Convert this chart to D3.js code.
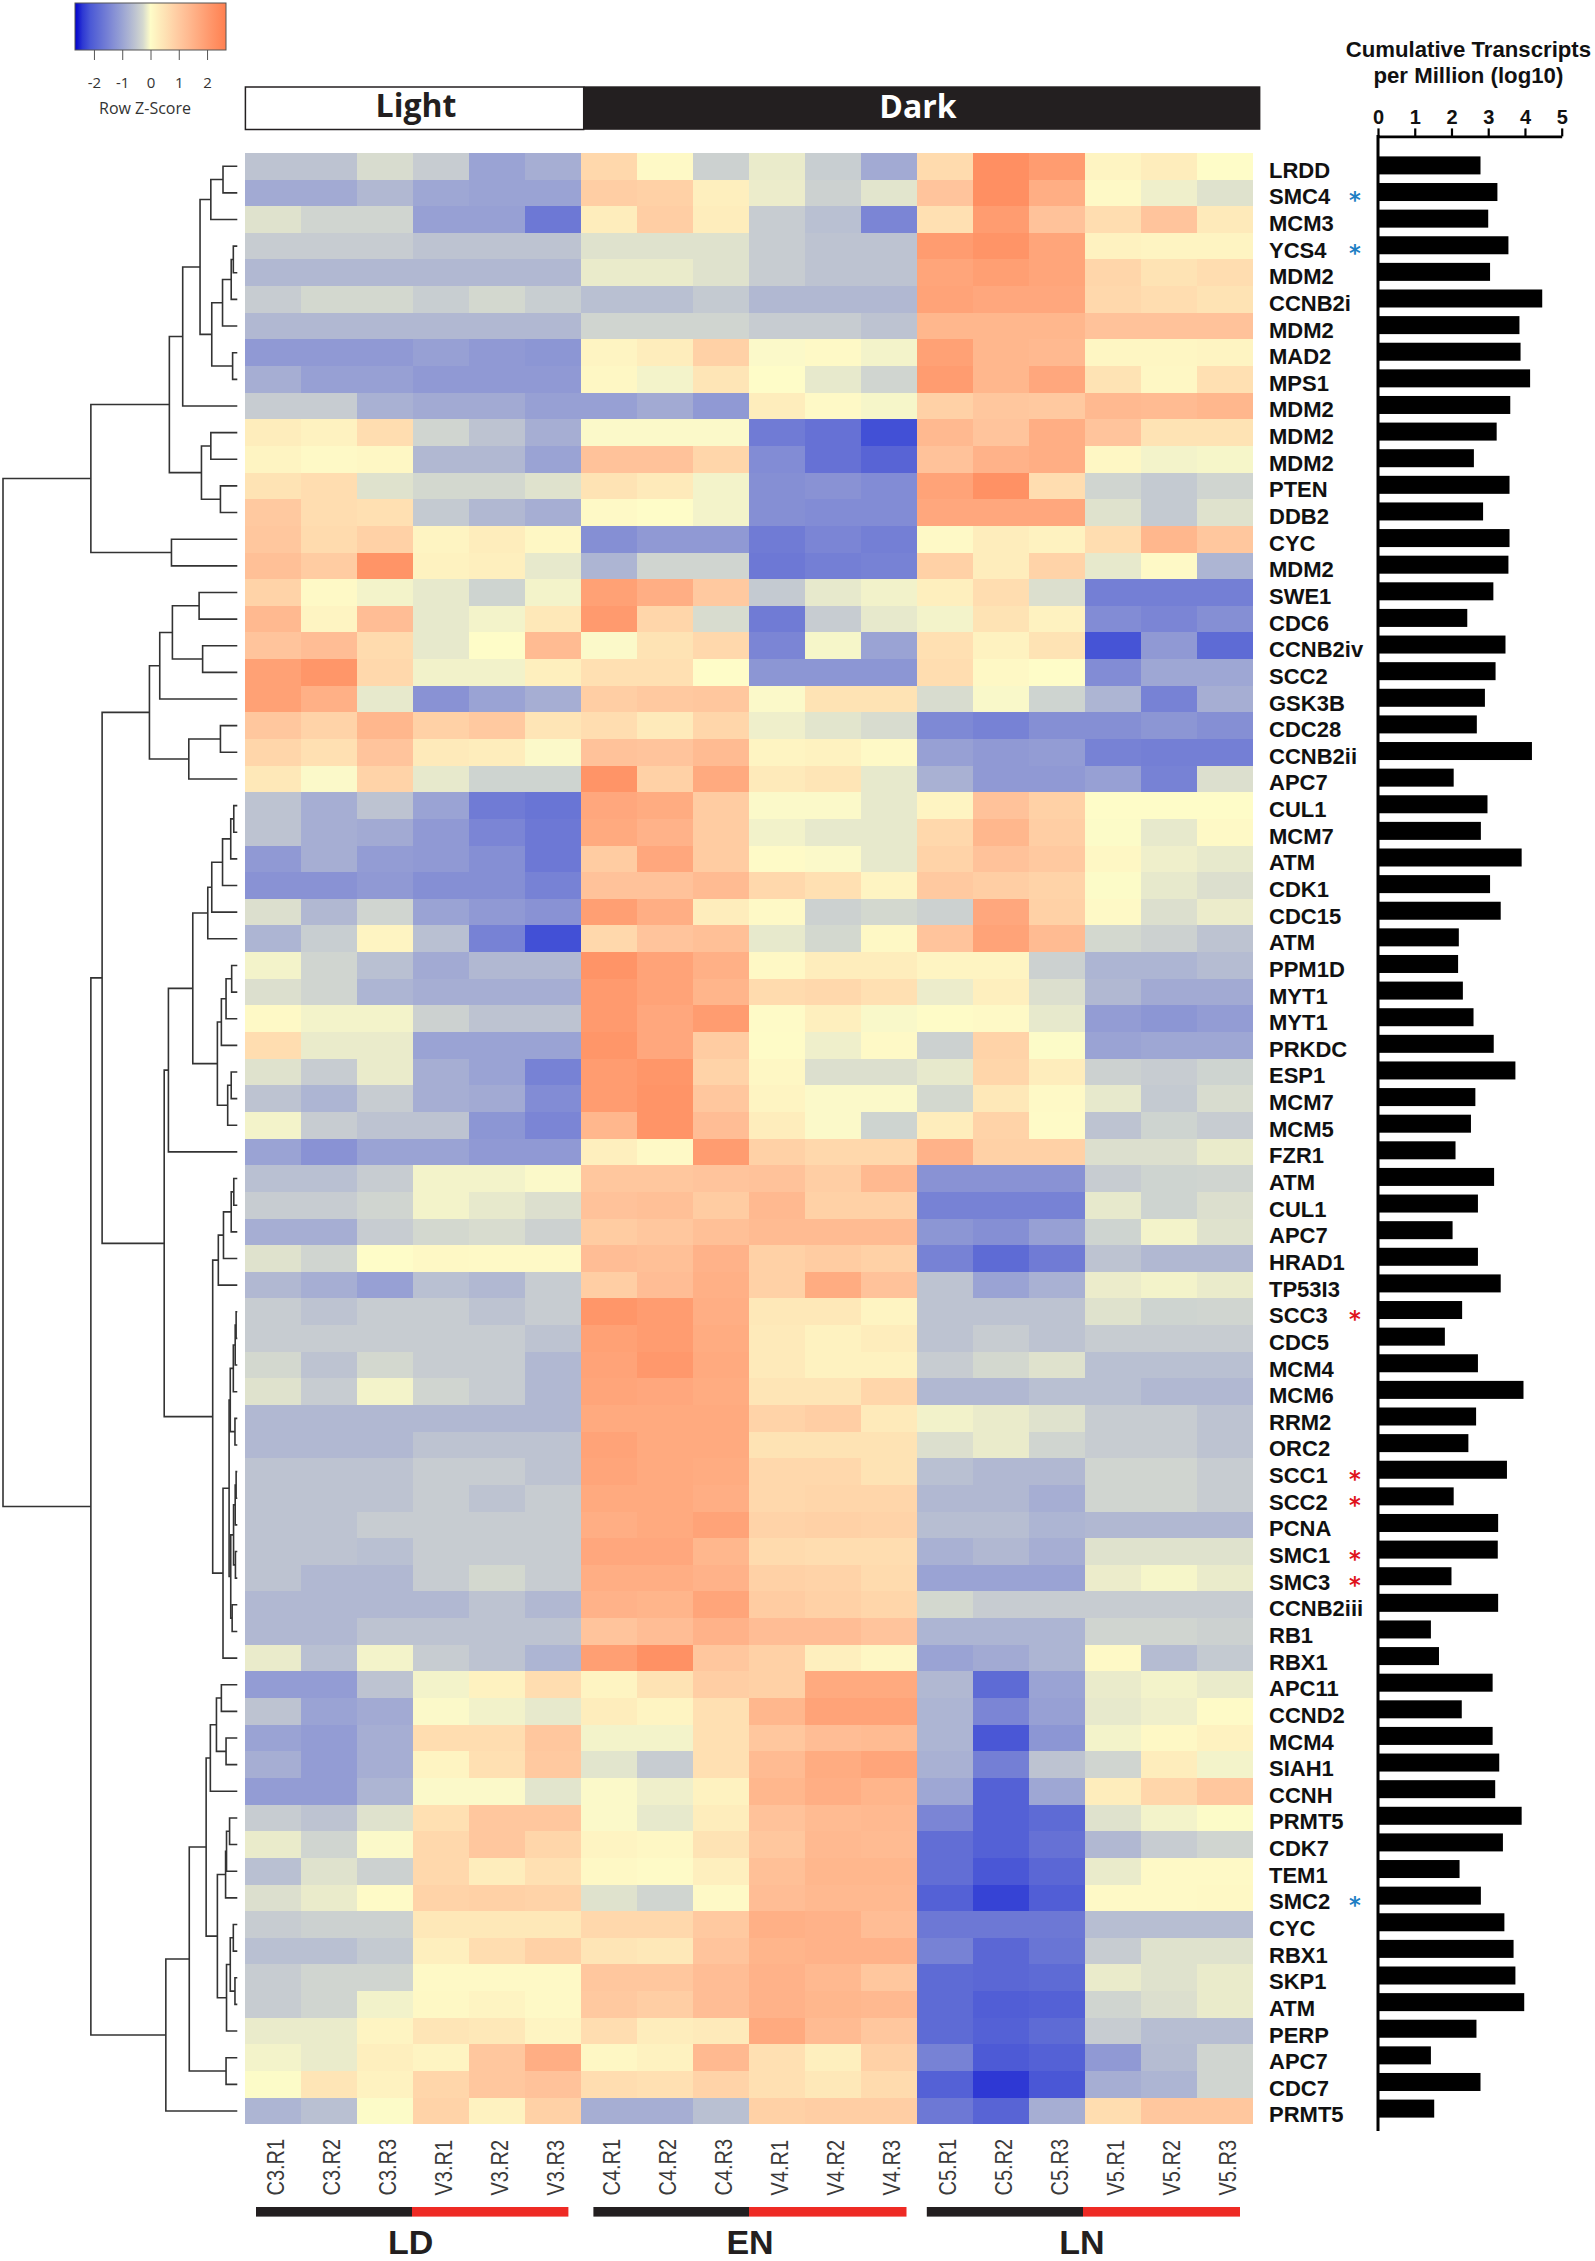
<!DOCTYPE html>
<html>
<head>
<meta charset="utf-8">
<script src="https://cdn.jsdelivr.net/npm/d3@7"></script>
<style>
    body { margin: 0; background: #fff; }
    svg { display: block; }
</style>
</head>
<body>
<svg id="vis1"></svg>
<script>
const WIDTH = 1595;
const HEIGHT = 2261;

const columns = ["C3.R1","C3.R2","C3.R3","V3.R1","V3.R2","V3.R3","C4.R1","C4.R2","C4.R3",
                 "V4.R1","V4.R2","V4.R3","C5.R1","C5.R2","C5.R3","V5.R1","V5.R2","V5.R3"];

const genes = ["LRDD","SMC4","MCM3","YCS4","MDM2","CCNB2i","MDM2","MAD2","MPS1","MDM2","MDM2","MDM2","PTEN","DDB2",
               "CYC","MDM2","SWE1","CDC6","CCNB2iv","SCC2","GSK3B","CDC28","CCNB2ii","APC7","CUL1","MCM7","ATM",
               "CDK1","CDC15","ATM","PPM1D","MYT1","MYT1","PRKDC","ESP1","MCM7","MCM5","FZR1","ATM","CUL1","APC7",
               "HRAD1","TP53I3","SCC3","CDC5","MCM4","MCM6","RRM2","ORC2","SCC1","SCC2","PCNA","SMC1","SMC3",
               "CCNB2iii","RB1","RBX1","APC11","CCND2","MCM4","SIAH1","CCNH","PRMT5","CDK7","TEM1","SMC2","CYC",
               "RBX1","SKP1","ATM","PERP","APC7","CDC7","PRMT5"];

// cumulative transcripts per million, log10
const transcripts = [2.79,3.25,3.0,3.55,3.05,4.47,3.85,3.88,4.14,3.6,3.23,2.61,3.58,2.86,3.58,3.55,
                     3.14,2.43,3.47,3.2,2.91,2.69,4.19,2.06,2.98,2.8,3.91,3.05,3.34,2.2,2.18,2.31,2.6,3.15,3.74,2.65,2.53,2.11,
                     3.16,2.72,2.03,2.72,3.34,2.29,1.82,2.72,3.96,2.67,2.46,3.51,2.06,3.27,3.26,2.0,3.27,1.44,1.66,3.12,2.28,
                     3.12,3.3,3.19,3.91,3.4,2.22,2.8,3.44,3.69,3.74,3.98,2.68,1.44,2.79,1.53];

// row z-scores, one line per gene
const zScores = [
[-0.55,-0.55,-0.25,-0.42,-1.0,-0.85,0.7,0.05,-0.35,-0.13,-0.4,-0.9,0.65,2.3,2.0,0.15,0.3,0.0],
[-0.9,-0.9,-0.7,-0.95,-1.0,-1.0,0.9,0.85,0.25,-0.12,-0.35,-0.18,1.1,2.3,1.6,0.05,-0.1,-0.2],
[-0.2,-0.3,-0.3,-1.05,-1.05,-1.65,0.3,0.9,0.3,-0.42,-0.6,-1.45,0.55,2.0,1.15,0.6,1.1,0.35],
[-0.42,-0.42,-0.42,-0.55,-0.55,-0.55,-0.2,-0.2,-0.2,-0.42,-0.55,-0.55,2.0,2.2,1.8,0.2,0.15,0.15],
[-0.7,-0.7,-0.7,-0.7,-0.7,-0.7,-0.13,-0.13,-0.2,-0.42,-0.55,-0.55,1.8,1.95,1.8,0.75,0.5,0.6],
[-0.42,-0.28,-0.28,-0.4,-0.28,-0.4,-0.6,-0.6,-0.45,-0.7,-0.7,-0.7,1.85,1.75,1.75,0.7,0.6,0.5],
[-0.7,-0.7,-0.7,-0.7,-0.7,-0.7,-0.3,-0.3,-0.3,-0.42,-0.42,-0.55,1.4,1.4,1.4,1.15,1.15,1.15],
[-1.15,-1.15,-1.15,-1.05,-1.15,-1.2,0.15,0.3,0.85,-0.02,0.05,-0.07,1.9,1.4,1.35,0.12,0.12,0.15],
[-0.85,-1.05,-1.05,-1.15,-1.15,-1.15,0.1,-0.07,0.45,0,-0.15,-0.3,2.0,1.4,1.75,0.5,0.1,0.55],
[-0.42,-0.42,-0.8,-0.9,-0.9,-1.05,-1.05,-0.9,-1.15,0.3,0.05,-0.05,0.85,1.05,1.0,1.35,1.3,1.4],
[0.3,0.2,0.6,-0.3,-0.55,-0.85,-0.02,-0.02,-0.02,-1.6,-1.75,-2.25,1.35,1.1,1.6,1.1,0.5,0.5],
[0.15,0.05,0.1,-0.7,-0.7,-1.0,1.15,1.15,0.75,-1.35,-1.75,-1.95,1.15,1.5,1.6,0.1,-0.07,-0.05],
[0.5,0.6,-0.2,-0.28,-0.28,-0.2,0.5,0.35,-0.07,-1.3,-1.25,-1.35,1.85,2.25,0.6,-0.3,-0.45,-0.3],
[1.0,0.6,0.55,-0.45,-0.7,-0.85,0.05,0.0,-0.07,-1.3,-1.35,-1.35,1.75,1.75,1.75,-0.2,-0.45,-0.2],
[1.05,0.65,0.85,0.15,0.3,0.1,-1.3,-1.15,-1.15,-1.6,-1.45,-1.55,0.05,0.3,0.2,0.6,1.4,1.05],
[1.2,0.95,2.2,0.2,0.25,-0.15,-0.75,-0.3,-0.3,-1.65,-1.55,-1.5,0.85,0.3,0.8,-0.15,0.05,-0.75],
[0.8,0.05,-0.07,-0.15,-0.32,-0.07,1.9,1.6,1.0,-0.45,-0.15,-0.08,0.25,0.6,-0.22,-1.55,-1.55,-1.55],
[1.35,0.15,1.25,-0.15,-0.07,0.4,2.05,0.75,-0.25,-1.6,-0.42,-0.15,-0.07,0.5,0.2,-1.35,-1.45,-1.3],
[1.1,1.25,0.65,-0.15,0,1.3,-0.02,0.5,0.7,-1.45,-0.05,-1.0,0.55,0.2,0.5,-2.2,-1.15,-1.85],
[1.9,2.15,0.7,-0.08,-0.08,0.25,0.55,0.55,0,-1.2,-1.2,-1.2,0.6,0.08,0.0,-1.35,-0.95,-0.95],
[1.9,1.55,-0.15,-1.25,-1.0,-0.85,0.9,1.0,1.05,-0.02,0.5,0.5,-0.25,-0.03,-0.32,-0.75,-1.5,-0.85],
[1.05,0.8,1.4,0.85,1.0,0.45,0.6,0.35,0.75,-0.1,-0.18,-0.25,-1.4,-1.5,-1.3,-1.3,-1.2,-1.3],
[0.75,0.55,1.1,0.35,0.3,-0.02,1.15,1.1,1.3,0.15,0.2,0.05,-1.05,-1.15,-1.1,-1.5,-1.55,-1.55],
[0.4,-0.02,0.8,-0.15,-0.32,-0.32,2.2,0.85,1.7,0.35,0.45,-0.15,-0.8,-1.15,-1.15,-1.05,-1.5,-0.22],
[-0.55,-0.85,-0.55,-1.0,-1.6,-1.7,1.75,1.65,0.95,-0.02,-0.02,-0.15,0.15,1.15,0.85,0,0,0],
[-0.55,-0.85,-0.9,-1.15,-1.45,-1.65,1.7,1.5,0.95,-0.08,-0.15,-0.15,0.7,1.4,0.9,-0.01,-0.15,0.05],
[-1.15,-0.85,-1.1,-1.15,-1.3,-1.65,0.95,1.75,0.95,0.03,-0.02,-0.15,0.8,1.15,1.0,0.1,-0.1,-0.15],
[-1.25,-1.25,-1.15,-1.3,-1.3,-1.5,1.15,1.15,1.3,0.7,0.55,0.15,1.0,0.9,0.8,-0.01,-0.15,-0.22],
[-0.22,-0.7,-0.3,-1.0,-1.15,-1.25,1.95,1.6,0.3,0.05,-0.35,-0.28,-0.35,1.75,0.85,0.05,-0.22,-0.12],
[-0.75,-0.4,0.15,-0.6,-1.5,-2.25,0.7,1.1,1.2,-0.15,-0.28,0.08,1.1,1.85,1.3,-0.28,-0.35,-0.55],
[-0.07,-0.3,-0.6,-0.9,-0.7,-0.7,2.2,1.85,1.55,0.08,0.3,0.3,0.15,0.15,-0.35,-0.75,-0.75,-0.65],
[-0.22,-0.3,-0.75,-0.85,-0.85,-0.85,2.05,1.85,1.45,0.65,0.7,0.55,-0.12,0.25,-0.22,-0.7,-0.9,-0.9],
[0.05,-0.07,-0.07,-0.35,-0.55,-0.55,2.05,1.75,2.0,0.03,0.25,-0.03,0.02,0.05,-0.15,-1.1,-1.2,-1.1],
[0.6,-0.13,-0.13,-1.0,-1.0,-1.0,2.15,1.75,0.95,0.02,-0.1,0.05,-0.35,0.8,-0.01,-1.0,-0.95,-0.95],
[-0.2,-0.42,-0.13,-0.85,-1.0,-1.5,2.0,2.15,0.8,0.1,-0.22,-0.22,-0.15,0.75,0.3,-0.35,-0.42,-0.32],
[-0.55,-0.75,-0.42,-0.85,-0.9,-1.35,2.0,2.2,1.05,0.15,-0.02,-0.02,-0.28,0.4,0.05,-0.15,-0.45,-0.25],
[-0.07,-0.42,-0.55,-0.55,-1.2,-1.45,1.4,2.2,1.25,0.3,-0.02,-0.32,0.3,0.8,0.03,-0.55,-0.32,-0.42],
[-1.0,-1.25,-1.0,-1.0,-1.15,-1.15,0.25,0.05,2.0,0.85,0.7,0.7,1.5,0.85,0.85,-0.22,-0.22,-0.13],
[-0.6,-0.6,-0.42,-0.07,-0.07,-0.02,1.05,1.05,1.1,1.15,0.9,1.35,-1.25,-1.25,-1.25,-0.42,-0.32,-0.3],
[-0.42,-0.42,-0.3,-0.07,-0.15,-0.22,1.15,1.2,0.95,1.35,0.85,0.85,-1.5,-1.5,-1.5,-0.15,-0.32,-0.22],
[-0.85,-0.85,-0.42,-0.28,-0.25,-0.35,0.95,1.05,1.2,1.3,1.3,1.3,-1.2,-1.3,-1.05,-0.32,-0.07,-0.2],
[-0.2,-0.3,0,0.08,0.05,0.05,1.25,1.2,1.5,0.85,0.95,0.85,-1.5,-1.85,-1.6,-0.55,-0.7,-0.7],
[-0.7,-0.85,-1.05,-0.6,-0.7,-0.42,0.9,1.25,1.55,0.85,1.65,1.15,-0.55,-1.0,-0.8,-0.12,-0.07,-0.13],
[-0.42,-0.55,-0.42,-0.42,-0.55,-0.42,2.15,2.0,1.6,0.4,0.4,0.15,-0.55,-0.55,-0.55,-0.2,-0.32,-0.3],
[-0.42,-0.42,-0.42,-0.42,-0.42,-0.55,1.9,2.0,1.65,0.35,0.2,0.3,-0.55,-0.42,-0.55,-0.42,-0.42,-0.42],
[-0.28,-0.55,-0.28,-0.42,-0.42,-0.7,1.85,2.1,1.7,0.35,0.2,0.2,-0.42,-0.28,-0.2,-0.6,-0.6,-0.6],
[-0.2,-0.42,-0.07,-0.3,-0.42,-0.7,1.8,1.75,1.65,0.45,0.45,0.75,-0.7,-0.7,-0.6,-0.6,-0.7,-0.7],
[-0.7,-0.7,-0.7,-0.7,-0.7,-0.7,1.7,1.7,1.7,0.8,0.9,0.35,-0.08,-0.13,-0.2,-0.42,-0.42,-0.55],
[-0.7,-0.7,-0.7,-0.55,-0.55,-0.55,1.85,1.7,1.7,0.5,0.5,0.5,-0.22,-0.13,-0.3,-0.42,-0.42,-0.55],
[-0.55,-0.55,-0.55,-0.42,-0.42,-0.55,1.8,1.7,1.65,0.7,0.7,0.5,-0.6,-0.7,-0.7,-0.3,-0.3,-0.42],
[-0.55,-0.55,-0.55,-0.42,-0.55,-0.42,1.7,1.7,1.6,0.7,0.75,0.75,-0.7,-0.7,-0.85,-0.3,-0.3,-0.42],
[-0.55,-0.55,-0.42,-0.42,-0.42,-0.42,1.6,1.7,1.85,0.8,0.85,0.8,-0.62,-0.62,-0.75,-0.7,-0.7,-0.7],
[-0.55,-0.55,-0.6,-0.42,-0.42,-0.42,1.75,1.75,1.4,0.65,0.6,0.6,-0.8,-0.7,-0.85,-0.2,-0.2,-0.2],
[-0.55,-0.7,-0.7,-0.42,-0.28,-0.42,1.6,1.6,1.5,0.85,0.8,0.65,-1.0,-1.0,-1.0,-0.12,-0.05,-0.13],
[-0.7,-0.7,-0.7,-0.7,-0.55,-0.7,1.5,1.45,1.8,0.95,0.85,0.75,-0.28,-0.42,-0.42,-0.42,-0.42,-0.42],
[-0.7,-0.7,-0.55,-0.55,-0.55,-0.55,1.1,1.25,1.5,1.25,1.25,1.1,-0.75,-0.75,-0.75,-0.3,-0.3,-0.35],
[-0.13,-0.6,-0.07,-0.42,-0.55,-0.75,1.95,2.25,1.05,0.85,0.25,0.1,-1.0,-0.9,-0.75,0.05,-0.65,-0.45],
[-1.1,-1.1,-0.55,-0.07,0.2,0.6,0.15,0.5,0.9,0.85,1.7,1.7,-0.7,-1.85,-1.0,-0.13,-0.07,-0.13],
[-0.55,-1.0,-0.9,-0.02,-0.08,-0.15,0.3,0.15,0.55,1.4,1.85,1.85,-0.75,-1.45,-1.05,-0.15,-0.1,0.03],
[-1.0,-1.1,-0.85,0.6,0.6,1.05,-0.07,-0.07,0.55,1.05,1.25,1.3,-0.75,-2.15,-1.2,-0.07,0.08,0.2],
[-0.85,-1.1,-0.85,0.15,0.55,1.0,-0.18,-0.42,0.55,1.3,1.65,1.8,-0.8,-1.55,-0.55,-0.3,0.3,-0.07],
[-1.1,-1.1,-0.75,-0.02,-0.02,-0.18,-0.02,-0.1,0.2,1.4,1.6,1.45,-0.95,-2.0,-0.95,0.3,0.75,1.05],
[-0.42,-0.55,-0.2,0.55,1.05,1.05,-0.02,-0.15,0.3,1.15,1.3,1.35,-1.45,-2.0,-1.85,-0.2,-0.07,-0.01],
[-0.13,-0.3,-0.02,0.7,1.05,0.75,0.15,0.1,0.5,1.05,1.35,1.3,-1.8,-2.0,-1.75,-0.7,-0.42,-0.3],
[-0.6,-0.2,-0.35,0.7,0.3,0.55,0.08,0.03,0.25,1.2,1.4,1.4,-1.8,-2.15,-1.9,-0.13,0.05,0.05],
[-0.22,-0.13,0.03,0.8,0.85,0.8,-0.2,-0.3,0.05,1.25,1.35,1.35,-2.0,-2.35,-2.05,0.05,0.06,0.08],
[-0.42,-0.35,-0.35,0.4,0.4,0.4,0.7,0.7,1.0,1.55,1.5,1.25,-1.65,-1.65,-1.65,-0.62,-0.62,-0.62],
[-0.6,-0.6,-0.45,0.25,0.6,0.85,0.45,0.4,1.1,1.45,1.5,1.5,-1.5,-1.9,-1.7,-0.42,-0.2,-0.2],
[-0.42,-0.3,-0.3,0.06,0.05,0.05,1.05,1.05,1.25,1.5,1.35,1.05,-1.85,-1.9,-1.85,-0.13,-0.2,-0.13],
[-0.42,-0.3,-0.08,0.08,0.15,0.05,1.0,0.9,1.25,1.5,1.4,1.35,-1.85,-2.05,-2.0,-0.3,-0.22,-0.13],
[-0.13,-0.13,0.15,0.45,0.4,0.15,0.6,0.3,0.35,1.7,1.3,1.05,-1.85,-2.0,-1.85,-0.42,-0.62,-0.62],
[-0.07,-0.13,0.25,0.15,1.05,1.6,0.1,0.2,1.35,0.55,0.25,0.85,-1.5,-2.1,-2.0,-1.15,-0.65,-0.3],
[-0.01,0.45,0.2,0.75,1.05,1.15,0.6,0.55,0.8,0.55,0.4,0.65,-2.0,-2.4,-2.15,-0.85,-0.75,-0.3],
[-0.75,-0.6,-0.01,0.8,0.2,0.85,-0.85,-0.85,-0.6,0.85,0.9,0.9,-1.65,-1.95,-0.85,0.6,1.05,1.05]
];

// rows flagged with an asterisk
const blueStars = [1, 3, 65];
const redStars = [43, 49, 50, 52, 53];

const legendTicks = [-2, -1, 0, 1, 2];
const transcriptTicks = [0, 1, 2, 3, 4, 5];

// row dendrogram: [height, upper child, lower child], 0 is a leaf, leaves run in row order
const cluster1 = [62.5,
    [29,
        [23.3,
            [15.9,
                [11.3, [6.1, 0, 0], 0],
                [10.9, [6.3, [2.6, [1.7, 0, 0], 0], 0], [2, 0, 0]]],
            0],
        [15.3, [11.3, 0, 0], [7.2, 0, 0]]],
    [28.1, 0, 0]];
const cluster2 = [37.5,
    [33.1, [27.7, [16.3, 0, 0], [14.8, 0, 0]], 0],
    [20.7, [7.2, 0, 0], 0]];
const cluster3 = [29.4,
    [19,
        [12.6, [10.9, [6.3, [2.8, [1.5, 0, 0], 0], 0], 0], 0],
        [8.5,
            [6.8, [4.8, [2.4, 0, 0], 0], 0],
            [4.1, [2.6, 0, 0], 0]]],
    0];
const cluster4 = [10.5,
    [8.1, [5.9, [2.6, [1.5, 0, 0], 0], 0], 0],
    [6.1,
        [3.5,
            [3, [1.7, [0.9, [0.5, 0, 0], 0], 0], [1, 0, 0]],
            [2.8, [1.6, [0.9, [0.5, 0, 0], 0], [0.8, 0, 0]], [2.2, 0, 0]]],
        0]];
const cluster5 = [30.5,
    [20.5,
        [13.3,
            [11.5, [8.9, [6.8, 0, 0], [4.8, 0, 0]], 0],
            [8.5,
                [5, [4.6, [3.3, 0, 0], 0], 0],
                [4.6, [3, [1.7, 0, 0], [1, 0, 0]], 0]]],
        [4.8, 0, 0]],
    0];
const dendrogram = [100, cluster1, [62.5, [57.7, cluster2, [31.2, cluster3, cluster4]], cluster5]];

window.onload = function(){
    setupVis();
};

function setupVis() {
    let svg = d3.select("#vis1")
        .attr("width", WIDTH)
        .attr("height", HEIGHT);

    const color = d3.scaleLinear()
        .domain([-2.67, -2.3, -1, -0.3, 0, 1.1, 2.67])
        .range(["#0000cd", "#3f4dd6", "#9aa3d4", "#d0d5d0", "#fefcc8", "#ffc49c", "#ff7f50"]);

    const x = d3.scaleBand().domain(columns).range([245.4, 1253.2]);
    const y = d3.scaleBand().domain(d3.range(genes.length)).range([152.9, 2124.3]);

    // heat map
    const rows = svg.append("g").selectAll("g")
        .data(zScores)
        .enter().append("g")
        .attr("transform", (d, i) => `translate(0,${y(i)})`);
    rows.selectAll("rect")
        .data(d => d)
        .enter().append("rect")
        .attr("x", (d, i) => x(columns[i]))
        .attr("width", x.bandwidth())
        .attr("height", y.bandwidth())
        .attr("shape-rendering", "crispEdges")
        .attr("fill", d => color(d));

    drawLegend(svg, color);
    drawLightDark(svg);
    drawDendrogram(svg, y);
    drawGeneLabels(svg, y);
    drawColumnLabels(svg, x);
    drawBars(svg);
}

function drawLegend(svg, color) {
    const lx = d3.scaleLinear().domain([-2.67, 2.67]).range([75, 226]);

    const grad = svg.append("defs").append("linearGradient").attr("id", "zgrad");
    grad.selectAll("stop")
        .data(d3.range(0, 1.001, 0.05))
        .enter().append("stop")
        .attr("offset", d => d)
        .attr("stop-color", d => color(-2.67 + d * 5.34));

    svg.append("rect")
        .attr("x", lx(-2.67)).attr("y", 3)
        .attr("width", lx(2.67) - lx(-2.67)).attr("height", 47)
        .attr("fill", "url(#zgrad)")
        .attr("stroke", "#555").attr("stroke-width", 1);

    const axis = svg.append("g")
        .attr("transform", "translate(0,50)")
        .call(d3.axisBottom(lx).tickValues(legendTicks).tickFormat(d => String(d)).tickSize(10).tickSizeOuter(0).tickPadding(17));
    axis.select(".domain").remove();
    axis.selectAll("line").attr("stroke", "#555");
    axis.selectAll("text")
        .attr("font-family", "Open Sans")
        .attr("font-size", 15)
        .attr("fill", "#333");

    svg.append("text")
        .attr("x", 145).attr("y", 113.5)
        .attr("text-anchor", "middle")
        .attr("font-family", "Open Sans")
        .attr("font-size", 16)
        .attr("fill", "#333")
        .text("Row Z-Score");
}

function drawLightDark(svg) {
    svg.append("rect")
        .attr("x", 245.4).attr("y", 87)
        .attr("width", 338.3).attr("height", 42.5)
        .attr("fill", "#fff").attr("stroke", "#231f20").attr("stroke-width", 1.5);
    svg.append("rect")
        .attr("x", 583.7).attr("y", 86.3)
        .attr("width", 676.7).attr("height", 43.5)
        .attr("fill", "#231f20");
    svg.append("text")
        .attr("x", 416).attr("y", 117)
        .attr("text-anchor", "middle")
        .attr("font-family", "Open Sans").attr("font-weight", 700)
        .attr("font-size", 32).attr("fill", "#231f20")
        .text("Light");
    svg.append("text")
        .attr("x", 918).attr("y", 118)
        .attr("text-anchor", "middle")
        .attr("font-family", "Open Sans").attr("font-weight", 700)
        .attr("font-size", 32).attr("fill", "#fff")
        .text("Dark");
}

function drawDendrogram(svg, y) {
    const dx = d3.scaleLinear().domain([0, 100]).range([237.3, 3]);
    const root = d3.hierarchy(dendrogram, d => Array.isArray(d) ? d.slice(1) : null);

    root.leaves().forEach((leaf, i) => { leaf.yPos = y(i) + y.bandwidth() / 2; });
    root.eachAfter(node => {
        if (node.children) node.yPos = (node.children[0].yPos + node.children[1].yPos) / 2;
    });
    const nodeX = node => dx(node.children ? node.data[0] : 0);

    svg.append("g").selectAll("path")
        .data(root.descendants().filter(n => n.children))
        .enter().append("path")
        .attr("fill", "none")
        .attr("stroke", "#333")
        .attr("stroke-width", 1.6)
        .attr("d", n => {
            const a = n.children[0], b = n.children[1];
            return `M${nodeX(a)},${a.yPos}H${nodeX(n)}V${b.yPos}H${nodeX(b)}`;
        });
}

function drawGeneLabels(svg, y) {
    svg.append("g").selectAll("text")
        .data(genes)
        .enter().append("text")
        .attr("x", 1269)
        .attr("y", (d, i) => y(i) + y.bandwidth() / 2 + 11.5)
        .attr("font-family", "Liberation Sans").attr("font-weight", 700)
        .attr("font-size", 22)
        .attr("fill", "#111")
        .text(d => d);

    const stars = blueStars.map(r => ({row: r, fill: "#1f7fc4"}))
        .concat(redStars.map(r => ({row: r, fill: "#e0141c"})));
    svg.append("g").selectAll("text")
        .data(stars)
        .enter().append("text")
        .attr("x", 1354.8)
        .attr("y", d => y(d.row) + y.bandwidth() / 2 + 15)
        .attr("text-anchor", "middle")
        .attr("font-family", "DejaVu Sans").attr("font-weight", 700)
        .attr("font-size", 22.5)
        .attr("fill", d => d.fill)
        .text("*");
}

function drawColumnLabels(svg, x) {
    svg.append("g").selectAll("text")
        .data(columns)
        .enter().append("text")
        .attr("transform", d => `translate(${x(d) + x.bandwidth() / 2 + 10.5},2195.5) rotate(-90) scale(1,1.2)`)
        .attr("font-family", "Liberation Sans")
        .attr("font-size", 20)
        .attr("fill", "#3a3a3a")
        .text(d => d);

    const groups = [
        {name: "LD", x0: 256, mid: 412, x1: 568.4, label: 410.7},
        {name: "EN", x0: 593.4, mid: 749, x1: 906.5, label: 750},
        {name: "LN", x0: 926.8, mid: 1083, x1: 1240, label: 1082}
    ];
    const g = svg.append("g").selectAll("g").data(groups).enter().append("g");
    g.append("rect")
        .attr("x", d => d.x0).attr("y", 2207)
        .attr("width", d => d.mid - d.x0).attr("height", 9.6)
        .attr("fill", "#231f20");
    g.append("rect")
        .attr("x", d => d.mid).attr("y", 2207)
        .attr("width", d => d.x1 - d.mid).attr("height", 9.6)
        .attr("fill", "#ee2a24");
    g.append("text")
        .attr("x", d => d.label).attr("y", 2253.7)
        .attr("text-anchor", "middle")
        .attr("font-family", "Liberation Sans").attr("font-weight", 700)
        .attr("font-size", 34)
        .attr("fill", "#231f20")
        .text(d => d.name);
}

function drawBars(svg) {
    const bx = d3.scaleLinear().domain([0, 5]).range([1378, 1561.7]);
    const by = d3.scalePoint().domain(d3.range(genes.length)).range([165.4, 2108.6]);

    svg.append("g").selectAll("rect")
        .data(transcripts)
        .enter().append("rect")
        .attr("x", bx(0))
        .attr("y", (d, i) => by(i) - 9)
        .attr("width", d => bx(d) - bx(0))
        .attr("height", 18)
        .attr("fill", "#000");

    // axis along the top, and the baseline going down from it
    const axis = svg.append("g")
        .attr("transform", "translate(0,136.4)")
        .call(d3.axisTop(bx).tickValues(transcriptTicks).tickFormat(d3.format("d")).tickSize(8).tickSizeOuter(0).tickPadding(4));
    axis.select(".domain").attr("stroke", "#000").attr("stroke-width", 2.6);
    axis.selectAll("line").attr("stroke", "#000").attr("stroke-width", 2.2);
    axis.selectAll("text")
        .attr("font-family", "Liberation Sans").attr("font-weight", 700)
        .attr("font-size", 20)
        .attr("fill", "#111");

    svg.append("line")
        .attr("x1", bx(0)).attr("x2", bx(0))
        .attr("y1", 135).attr("y2", 2131)
        .attr("stroke", "#000").attr("stroke-width", 3);

    const title = ["Cumulative Transcripts", "per Million (log10)"];
    svg.append("g").selectAll("text")
        .data(title)
        .enter().append("text")
        .attr("x", 1468.4)
        .attr("y", (d, i) => 57 + i * 26)
        .attr("text-anchor", "middle")
        .attr("font-family", "Liberation Sans").attr("font-weight", 700)
        .attr("font-size", 22.2)
        .attr("fill", "#111")
        .text(d => d);
}
</script>
</body>
</html>
